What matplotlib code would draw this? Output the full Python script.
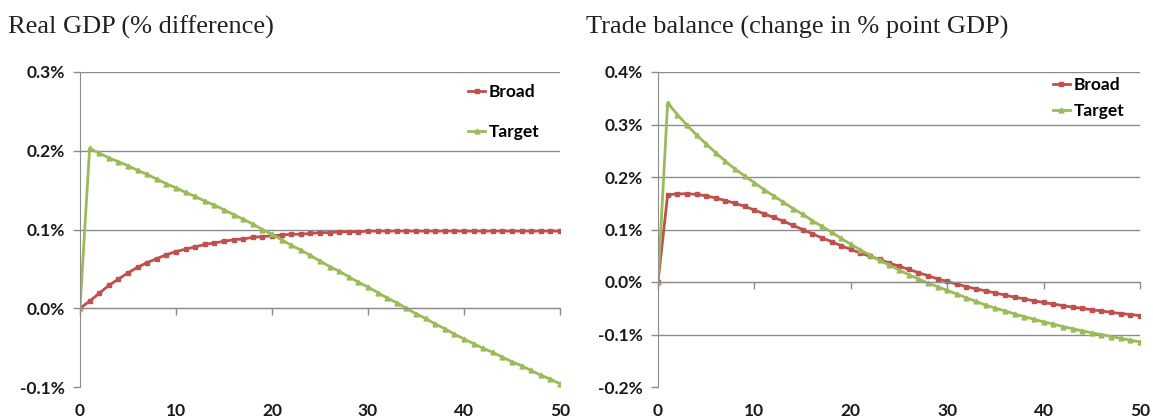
import numpy as np
import matplotlib
matplotlib.use("Agg")
import matplotlib.pyplot as plt

# periods 0..50
periods = list(range(51))

# Real GDP (% difference)
gdp_broad = [0.000, 0.009, 0.019, 0.029, 0.037, 0.045, 0.052, 0.058, 0.063, 0.068,
             0.072, 0.075, 0.078, 0.081, 0.083, 0.085, 0.087, 0.088, 0.090, 0.091,
             0.092, 0.093, 0.094, 0.094, 0.095, 0.096, 0.096, 0.097, 0.097, 0.097,
             0.098, 0.098, 0.098, 0.098, 0.098, 0.098, 0.098, 0.098, 0.098, 0.098,
             0.098, 0.098, 0.098, 0.098, 0.098, 0.098, 0.098, 0.098, 0.098, 0.098,
             0.098]
gdp_target = [0.000, 0.203, 0.197, 0.191, 0.186, 0.181, 0.175, 0.170, 0.164, 0.158,
              0.153, 0.147, 0.142, 0.136, 0.131, 0.125, 0.119, 0.113, 0.107, 0.100,
              0.094, 0.087, 0.080, 0.074, 0.067, 0.060, 0.053, 0.047, 0.040, 0.033,
              0.027, 0.020, 0.013, 0.007, 0.000, -0.007, -0.013, -0.020, -0.026, -0.033,
              -0.039, -0.045, -0.051, -0.056, -0.062, -0.068, -0.073, -0.079, -0.085, -0.090,
              -0.096]

# Trade balance (change in % point GDP)
tb_broad = [0.000, 0.166, 0.168, 0.168, 0.167, 0.164, 0.160, 0.155, 0.150, 0.144,
            0.137, 0.130, 0.123, 0.116, 0.108, 0.100, 0.092, 0.084, 0.077, 0.069,
            0.062, 0.055, 0.049, 0.043, 0.036, 0.030, 0.024, 0.018, 0.012, 0.006,
            0.001, -0.004, -0.009, -0.013, -0.017, -0.021, -0.025, -0.029, -0.032, -0.036,
            -0.039, -0.042, -0.045, -0.048, -0.050, -0.053, -0.055, -0.058, -0.060, -0.062,
            -0.064]
tb_target = [0.000, 0.341, 0.319, 0.299, 0.280, 0.263, 0.246, 0.230, 0.215, 0.202,
             0.189, 0.176, 0.164, 0.152, 0.140, 0.129, 0.117, 0.106, 0.095, 0.083,
             0.072, 0.061, 0.051, 0.041, 0.032, 0.023, 0.014, 0.006, -0.002, -0.009,
             -0.016, -0.023, -0.030, -0.037, -0.044, -0.050, -0.055, -0.061, -0.066, -0.071,
             -0.076, -0.080, -0.085, -0.089, -0.093, -0.097, -0.100, -0.104, -0.107, -0.111,
             -0.114]

x_ticks = [0, 10, 20, 30, 40, 50]
gdp_yticks = [-0.1, 0.0, 0.1, 0.2, 0.3]
tb_yticks = [-0.2, -0.1, 0.0, 0.1, 0.2, 0.3, 0.4]

red = '#C0504D'
green = '#9BBB59'
grid_col = '#8C8C8C'
text_col = '#1A1A1A'
tick_font = 'Lato'

fig = plt.figure(figsize=(11.53, 4.2), dpi=100)
ax1 = fig.add_axes([80 / 1153, 33 / 420, 480 / 1153, 315 / 420])
ax2 = fig.add_axes([658 / 1153, 33 / 420, 482 / 1153, 315 / 420])


def style_panel(ax, yticks, title, labelspacing, legend_anchor):
    ax.set_xlim(0, 50)
    ax.set_ylim(yticks[0], yticks[-1])
    ax.set_yticks(yticks)
    ax.set_yticklabels([f'{v:.1f}%' for v in yticks], fontfamily=tick_font,
                       fontweight='bold', fontsize=12.5, color=text_col)
    ax.set_xticks(x_ticks)
    ax.tick_params(axis='x', labelbottom=False, direction='out', length=5,
                   color=grid_col, width=1)
    ax.tick_params(axis='y', direction='out', length=5, color=grid_col,
                   width=1, pad=6)
    for v in yticks[1:]:
        ax.axhline(v, color=grid_col, lw=1, zorder=0)
    for s in ['top', 'right']:
        ax.spines[s].set_visible(False)
    ax.spines['left'].set_color(grid_col)
    ax.spines['bottom'].set_color(grid_col)
    ax.spines['bottom'].set_position(('data', 0))
    for t in x_ticks:
        ax.text(t, -0.05, str(t), transform=ax.get_xaxis_transform(),
                ha='center', va='top', fontfamily=tick_font, fontweight='bold',
                fontsize=12.5, color=text_col)
    fig.text(ax.get_position().x0 - 72 / 1153, 0.935, title, fontfamily='Liberation Serif',
             fontsize=19, ha='left', va='center', color='#222222')
    ax.legend(loc='upper right', bbox_to_anchor=legend_anchor, frameon=False,
              handlelength=1.0, handletextpad=0.2, labelspacing=labelspacing,
              prop={'family': tick_font, 'weight': 'bold', 'size': 12.5})


ax1.plot(periods, gdp_broad, color=red, lw=2, marker='s', ms=3.5, label='Broad')
ax1.plot(periods, gdp_target, color=green, lw=2, marker='^', ms=3.5, label='Target')
style_panel(ax1, gdp_yticks, 'Real GDP (% difference)', 1.35, (0.99, 1.01))

ax2.plot(periods, tb_broad, color=red, lw=2, marker='s', ms=3.5, label='Broad')
ax2.plot(periods, tb_target, color=green, lw=2, marker='^', ms=3.5, label='Target')
style_panel(ax2, tb_yticks, 'Trade balance (change in % point GDP)', 0.6, (1.0, 1.035))

fig.savefig('out.png', dpi=100)
